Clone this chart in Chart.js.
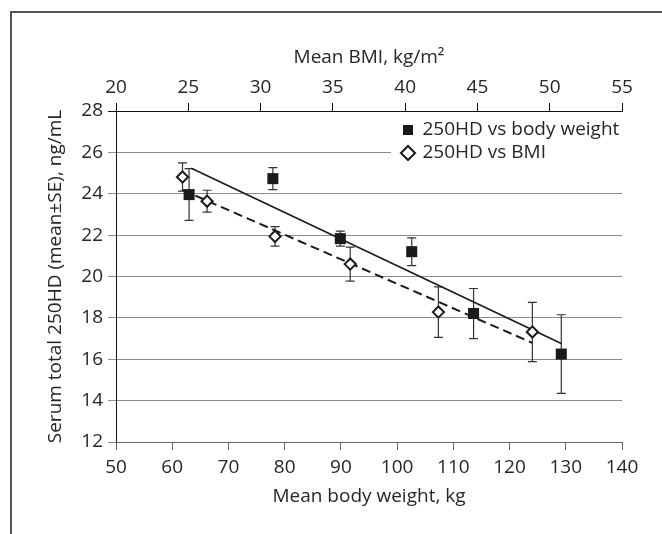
<!DOCTYPE html>
<html>
<head>
<title>Serum 250HD vs body weight and BMI</title>
<script src="https://cdn.jsdelivr.net/npm/chart.js"></script>
<style>
html, body {
  margin: 0;
  padding: 0;
  background: #fff;
  overflow: hidden;
}
#frame {
  position: absolute;
  left: 10px;
  top: 11px;
  width: 720px;
  height: 600px;
  border-left: 2px solid #555;
  border-top: 2px solid #555;
}
#wrap {
  position: absolute;
  left: 0;
  top: 0;
  width: 662px;
  height: 534px;
}
</style>
</head>
<body>
<div id="frame"></div>
<div id="wrap"><canvas id="chart"></canvas></div>

<script>
// body weight groups (bottom axis)
const weights = [63.0, 77.9, 89.9, 102.6, 113.6, 129.2];
const weightMeans = [23.96, 24.73, 21.83, 21.2, 18.21, 16.25];
const weightSE = [1.25, 0.53, 0.36, 0.67, 1.21, 1.9];

// BMI groups (top axis)
const bmi = [24.6, 26.3, 31.0, 36.2, 42.3, 48.8];
const bmiMeans = [24.81, 23.64, 21.94, 20.6, 18.28, 17.32];
const bmiSE = [0.68, 0.53, 0.47, 0.82, 1.22, 1.43];

// trend lines, end points
const weightFitX = [63.4, 129.2];
const weightFitY = [25.23, 16.76];
const bmiFitX = [24.6, 48.8];
const bmiFitY = [24.18, 16.79];

const xTicks = { min: 50, max: 140, step: 10 };
const x2Ticks = { min: 20, max: 55, step: 5 };
const yTicks = { min: 12, max: 28, step: 2 };

const textColor = '#262626';
const font = { family: 'Open Sans', size: 19 };

function pts(xs, ys) {
  return xs.map((v, i) => ({ x: v, y: ys[i] }));
}

function drawErrorBars(ctx, xScale, yScale, xs, means, errs) {
  xs.forEach((v, i) => {
    const px = xScale.getPixelForValue(v);
    const top = yScale.getPixelForValue(means[i] + errs[i]);
    const bot = yScale.getPixelForValue(means[i] - errs[i]);
    ctx.beginPath();
    ctx.moveTo(px, top);
    ctx.lineTo(px, bot);
    ctx.moveTo(px - 4.5, top);
    ctx.lineTo(px + 4.5, top);
    ctx.moveTo(px - 4.5, bot);
    ctx.lineTo(px + 4.5, bot);
    ctx.stroke();
  });
}

const errorBars = {
  id: 'errorBars',
  beforeDatasetsDraw(chart) {
    const { ctx, scales } = chart;
    ctx.save();
    ctx.strokeStyle = '#333';
    ctx.lineWidth = 1.2;
    drawErrorBars(ctx, scales.x, scales.y, weights, weightMeans, weightSE);
    drawErrorBars(ctx, scales.x2, scales.y, bmi, bmiMeans, bmiSE);
    ctx.restore();
  }
};

// legend sits inside the plot, top right, on a white patch
const legendBox = {
  id: 'legendBox',
  afterLayout(chart) {
    const lg = chart.legend;
    const ca = chart.chartArea;
    lg.left = ca.right - 223;
    lg.right = lg.left + lg.width;
    lg.top = ca.top + 5.5;
    lg.bottom = ca.bottom;
  },
  beforeDatasetsDraw(chart) {
    const ctx = chart.ctx;
    const ca = chart.chartArea;
    ctx.save();
    ctx.fillStyle = '#fff';
    ctx.fillRect(ca.left + 275, ca.top + 2, ca.right - ca.left - 273, 56);
    ctx.restore();
    chart.legend.draw();
  }
};

new Chart(document.getElementById('chart'), {
  type: 'scatter',
  data: {
    datasets: [{
      label: '250HD vs body weight',
      data: pts(weights, weightMeans),
      xAxisID: 'x',
      pointStyle: 'rect',
      pointRadius: 7.8,
      pointBackgroundColor: '#1a1a1a',
      pointBorderColor: '#1a1a1a',
      pointBorderWidth: 0,
      backgroundColor: '#1a1a1a',
      borderColor: '#1a1a1a',
      borderWidth: 0
    }, {
      label: '250HD vs BMI',
      data: pts(bmi, bmiMeans),
      xAxisID: 'x2',
      pointStyle: 'rectRot',
      pointRadius: 5.6,
      pointBackgroundColor: '#fff',
      pointBorderColor: '#1a1a1a',
      pointBorderWidth: 2,
      backgroundColor: '#fff',
      borderColor: '#1a1a1a',
      borderWidth: 2
    }, {
      label: 'fit weight',
      data: pts(weightFitX, weightFitY),
      xAxisID: 'x',
      showLine: true,
      pointRadius: 0,
      borderColor: '#1a1a1a',
      borderWidth: 1.6
    }, {
      label: 'fit BMI',
      data: pts(bmiFitX, bmiFitY),
      xAxisID: 'x2',
      showLine: true,
      pointRadius: 0,
      borderColor: '#1a1a1a',
      borderWidth: 2,
      borderDash: [9, 5]
    }]
  },
  options: {
    responsive: true,
    maintainAspectRatio: false,
    animation: false,
    events: [],
    layout: { padding: { left: 0, top: 0, right: 40, bottom: 0 } },
    plugins: {
      tooltip: { enabled: false },
      legend: {
        display: true,
        position: 'chartArea',
        align: 'start',
        labels: {
          usePointStyle: true,
          boxWidth: 10,
          boxHeight: 10,
          padding: 4,
          color: textColor,
          font: font,
          filter: (item) => item.datasetIndex < 2
        }
      }
    },
    scales: {
      x: {
        type: 'linear',
        position: 'bottom',
        min: xTicks.min,
        max: xTicks.max,
        ticks: { stepSize: xTicks.step, padding: 6, color: textColor, font: font },
        grid: { drawOnChartArea: false, color: '#666', tickLength: 8 },
        border: { color: '#666', width: 1 },
        title: {
          display: true,
          text: 'Mean body weight, kg',
          color: textColor,
          font: font,
          padding: { top: 0, bottom: 25.6 }
        },
        afterFit(scale) { scale.height = 92; }
      },
      x2: {
        type: 'linear',
        position: 'top',
        min: x2Ticks.min,
        max: x2Ticks.max,
        ticks: { stepSize: x2Ticks.step, padding: 4, color: textColor, font: font },
        grid: { drawOnChartArea: false, color: '#111', tickLength: 8 },
        border: { color: '#111', width: 1 },
        title: {
          display: true,
          text: 'Mean BMI, kg/m²',
          color: textColor,
          font: font,
          padding: { top: 46, bottom: 0 }
        },
        afterFit(scale) { scale.height = 111; }
      },
      y: {
        type: 'linear',
        min: yTicks.min,
        max: yTicks.max,
        ticks: { stepSize: yTicks.step, padding: 5, color: textColor, font: font },
        grid: {
          color: (c) => (c.tick && c.tick.value === yTicks.max ? '#111' : '#8c8c8c'),
          tickLength: 8
        },
        border: { color: '#111', width: 1 },
        title: {
          display: true,
          text: 'Serum total 250HD (mean±SE), ng/mL',
          color: textColor,
          font: font,
          padding: { top: 44, bottom: 0 }
        },
        afterFit(scale) { scale.width = 116; }
      }
    }
  },
  plugins: [errorBars, legendBox]
});
</script>
</body>
</html>
